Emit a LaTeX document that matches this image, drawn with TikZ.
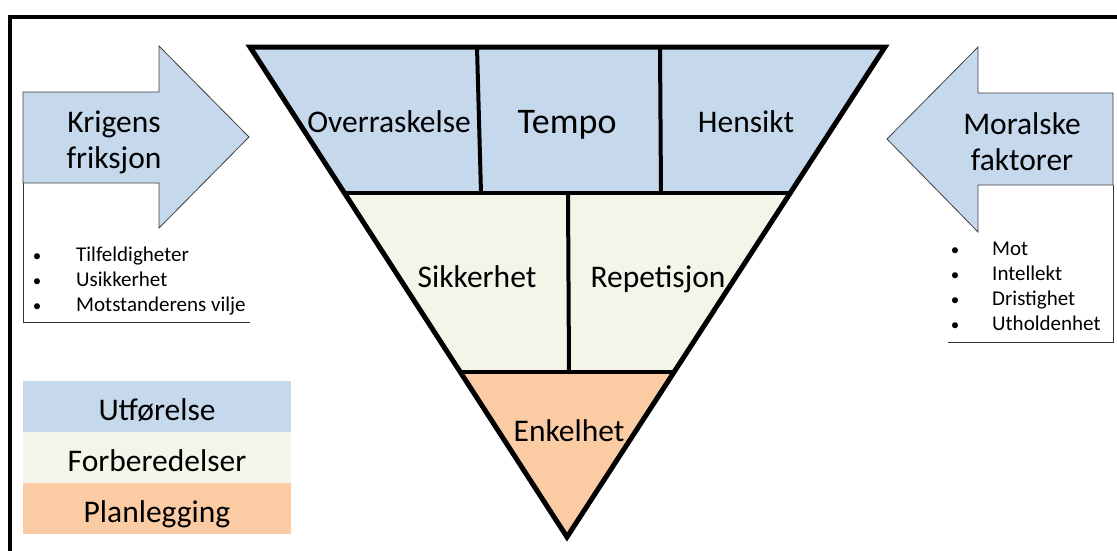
\documentclass[tikz,border=0pt]{standalone}
\usepackage{fontspec}
\setmainfont{Carlito}
\usetikzlibrary{calc}
\definecolor{utfblue}{RGB}{197,216,236}
\definecolor{forgreen}{RGB}{242,245,232}
\definecolor{planorange}{RGB}{251,204,163}
\begin{document}
\begin{tikzpicture}
        [x=1pt, y=-1pt,
        word/.style={font=\fontsize{31.5}{36}\selectfont, inner sep=0pt, anchor=base},
        bigword/.style={font=\fontsize{36}{40}\selectfont, inner sep=0pt, anchor=base},
        item/.style={font=\fontsize{21}{24}\selectfont, inner sep=0pt, anchor=base west},
        dot/.style={font=\fontsize{17}{24}\selectfont, inner sep=0pt, anchor=base},
        arrowbody/.style={fill=utfblue, draw=black!75, line width=0.8pt},
        thinline/.style={draw=black!80, line width=0.8pt},
        edge/.style={line width=5pt, line join=miter},
        divider/.style={line width=4pt},
        ]
        \useasboundingbox (0,0) rectangle (1117,550);
        % frame
        \draw[line width=4pt] (10,560) -- (10,17) -- (1130,17);
        % the inverted triangle
        \coordinate (tl) at (250,47);
        \coordinate (tr) at (885,47);
        \coordinate (apex) at (567,537);
        \coordinate (bl) at ($(tl)!0.298!(apex)$);
        \coordinate (br) at ($(tr)!0.298!(apex)$);
        \coordinate (gl) at ($(tl)!0.663!(apex)$);
        \coordinate (gr) at ($(tr)!0.663!(apex)$);
        \fill[utfblue] (tl) -- (tr) -- (br) -- (bl) -- cycle;
        \fill[forgreen] (bl) -- (br) -- (gr) -- (gl) -- cycle;
        \fill[planorange] (gl) -- (gr) -- (apex) -- cycle;
        \draw[divider] (bl) -- (br);
        \draw[divider] (gl) -- (gr);
        \draw[divider] (477,47) -- (481,193);
        \draw[divider] (660,47) -- (661,193);
        \draw[divider] (568,193) -- (569,372);
        \draw[edge] (tl) -- (tr) -- (apex) -- cycle;
        \node[word] (overraskelse) at (389,132) {Overraskelse};
        \node[bigword] (tempo) at (567,133) {Tempo};
        \node[word] (hensikt) at (746,132) {Hensikt};
        \node[word] (sikkerhet) at (477,287) {Sikkerhet};
        \node[word] (repetisjon) at (658,287) {Repetisjon};
        \node[word] (enkelhet) at (569,441) {Enkelhet};
        % left arrow
        \draw[thinline] (23,183) -- (23,322) -- (250,322);
        \draw[arrowbody] (23,92) -- (159,92) -- (159,46) -- (249,137)
          -- (159,228) -- (159,183) -- (23,183) -- cycle;
        \node[word, anchor=center, align=center] (friksjon) at (114,142)
          {Krigens\\friksjon};
        \foreach \txt [count=\i] in {Tilfeldigheter, Usikkerhet, Motstanderens vilje} {
          \node[dot] (ldot\i) at (37,236+25*\i) {•};
          \node[item] (litem\i) at (76,236+25*\i) {\txt};
        }
        % right arrow
        \draw[thinline] (1113,185) -- (1113,342) -- (948,342);
        \draw[arrowbody] (1113,93) -- (978,93) -- (978,47) -- (887,139)
          -- (978,232) -- (978,185) -- (1113,185) -- cycle;
        \node[word, anchor=center, align=center] (moral) at (1022,142)
          {Moralske\\faktorer};
        \foreach \txt [count=\i] in {Mot, Intellekt, Dristighet, Utholdenhet} {
          \node[dot] (rdot\i) at (955,230+25*\i) {•};
          \node[item] (ritem\i) at (992,230+25*\i) {\txt};
        }
        % legend
        \foreach \txt/\col [count=\i] in {Utførelse/utfblue, Forberedelser/forgreen, Planlegging/planorange} {
          \fill[\col] (23,330+51*\i) rectangle (291,381+51*\i);
          \node[word] (legend\i) at (157,369+51*\i) {\txt};
        }
\end{tikzpicture}
\end{document}
